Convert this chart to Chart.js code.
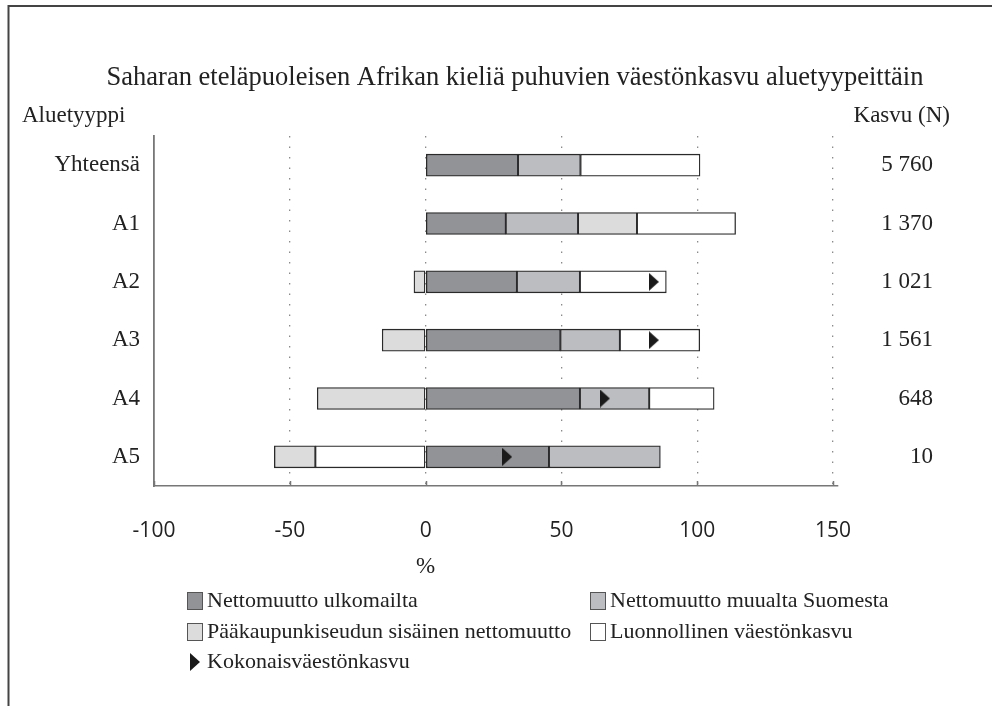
<!DOCTYPE html>
<html>
<head>
<meta charset="utf-8">
<script src="https://cdn.jsdelivr.net/npm/chart.js@4.4.1/dist/chart.umd.min.js"></script>
<style>
    html, body { margin: 0; padding: 0; background: #fff; }
    #wrap { position: relative; width: 992px; height: 706px; }
</style>
</head>
<body>
<div id="wrap"><canvas id="kasvuChart" width="992" height="706"></canvas></div>
<script>
// data (percent of growth per area type)
const regions = ['Yhteensä', 'A1', 'A2', 'A3', 'A4', 'A5'];
const growthN = ['5 760', '1 370', '1 021', '1 561', '648', '10'];
const fromAbroad = [34, 29.5, 33.6, 49.6, 56.8, 45.4];
const fromFinland = [23, 26.6, 23.2, 21.9, 25.5, 41];
const capitalInternal = [0, 21.7, -4.3, -16, -39.9, null];
const natural = [44, 36.3, 31.8, 29.4, 23.9, -40.6];
const capitalInternalA5 = [null, null, null, null, null, -15.1];
const totalGrowth = [null, null, 84, 84, 66, 30];
const xTicks = [-100, -50, 0, 50, 100, 150];

const chartTitle = 'Saharan eteläpuoleisen Afrikan kieliä puhuvien väestönkasvu aluetyypeittäin';
const seriesLabels = [
    'Nettomuutto ulkomailta',
    'Nettomuutto muualta Suomesta',
    'Pääkaupunkiseudun sisäinen nettomuutto',
    'Luonnollinen väestönkasvu',
    'Kokonaisväestönkasvu'
];

const serif = '"Liberation Serif", "Times New Roman", serif';
const colors = ['#929397', '#bcbdc0', '#dcdcdc', '#ffffff'];

// right-pointing triangle used for the total growth marker
const marker = document.createElement('canvas');
marker.width = 10;
marker.height = 18;
(function () {
    const c = marker.getContext('2d');
    c.fillStyle = '#1a1a1a';
    c.beginPath();
    c.moveTo(0, 0);
    c.lineTo(10, 9);
    c.lineTo(0, 18);
    c.closePath();
    c.fill();
})();

function barSet(label, data, color) {
    return {
        type: 'bar',
        label: label,
        data: data,
        backgroundColor: color,
        borderColor: '#2a2a2a',
        borderWidth: 1.3,
        borderSkipped: false,
        barThickness: 22,
        stack: 'osat'
    };
}

const extras = {
    id: 'extras',
    beforeDraw(chart) {
        const ctx = chart.ctx;
        ctx.save();
        ctx.fillStyle = '#fff';
        ctx.fillRect(0, 0, chart.width, chart.height);
        // frame
        ctx.strokeStyle = '#444';
        ctx.lineWidth = 2;
        ctx.beginPath();
        ctx.moveTo(8.5, 706);
        ctx.lineTo(8.5, 6);
        ctx.lineTo(992, 6);
        ctx.stroke();
        ctx.restore();
    },
    afterDraw(chart) {
        const ctx = chart.ctx;
        const x = chart.scales.x;
        const y = chart.scales.y;
        ctx.save();

        // small tick marks pointing up from the axis
        ctx.strokeStyle = '#777';
        ctx.lineWidth = 1.5;
        xTicks.forEach(v => {
            const px = Math.round(x.getPixelForValue(v)) + 0.5;
            ctx.beginPath();
            ctx.moveTo(px, chart.chartArea.bottom);
            ctx.lineTo(px, chart.chartArea.bottom - 5);
            ctx.stroke();
        });

        ctx.fillStyle = '#222';
        ctx.textBaseline = 'middle';
        ctx.font = '26.5px ' + serif;
        ctx.textAlign = 'center';
        ctx.fillText(chartTitle, 515, 78);

        ctx.font = '23px ' + serif;
        ctx.textAlign = 'left';
        ctx.fillText('Aluetyyppi', 22, 116);
        ctx.textAlign = 'right';
        ctx.fillText('Kasvu (N)', 950, 116);

        regions.forEach((r, i) => {
            ctx.fillText(growthN[i], 933, y.getPixelForValue(i));
        });

        ctx.textAlign = 'center';
        ctx.fillText('%', x.getPixelForValue(0), 567);

        // legend
        const items = [
            { col: 0, row: 0, ds: 0 },
            { col: 1, row: 0, ds: 1 },
            { col: 0, row: 1, ds: 2 },
            { col: 1, row: 1, ds: 3 },
            { col: 0, row: 2, ds: 6 }
        ];
        const colX = [187, 590];
        const rowY = [601, 632, 662];
        ctx.font = '22px ' + serif;
        ctx.textAlign = 'left';
        items.forEach(it => {
            const bx = colX[it.col];
            const by = rowY[it.row];
            const ds = chart.data.datasets[it.ds];
            if (ds.type === 'bar') {
                ctx.fillStyle = ds.backgroundColor;
                ctx.fillRect(bx, by - 9, 16, 18);
                ctx.strokeStyle = '#555';
                ctx.lineWidth = 1;
                ctx.strokeRect(bx + 0.5, by - 8.5, 15, 17);
            } else {
                ctx.drawImage(marker, bx + 3, by - 9);
            }
            ctx.fillStyle = '#222';
            ctx.fillText(ds.label, bx + 20, by);
        });

        ctx.restore();
    }
};

const ctx = document.getElementById('kasvuChart').getContext('2d');
const kasvuChart = new Chart(ctx, {
    data: {
        labels: regions,
        datasets: [
            barSet(seriesLabels[0], fromAbroad, colors[0]),
            barSet(seriesLabels[1], fromFinland, colors[1]),
            barSet(seriesLabels[2], capitalInternal, colors[2]),
            barSet(seriesLabels[3], natural, colors[3]),
            barSet(seriesLabels[2] + ' ', capitalInternalA5, colors[2]),
            {
                type: 'line',
                label: 'spacer',
                data: [],
                stack: 'none'
            },
            {
                type: 'line',
                label: seriesLabels[4],
                data: totalGrowth,
                showLine: false,
                pointStyle: marker,
                pointRadius: 9,
                stack: 'kokonais',
                order: -1
            }
        ]
    },
    options: {
        indexAxis: 'y',
        responsive: false,
        animation: false,
        layout: { padding: { top: 136, right: 154, left: 0, bottom: 0 } },
        plugins: {
            legend: { display: false },
            tooltip: { enabled: false }
        },
        scales: {
            x: {
                type: 'linear',
                stacked: true,
                min: -100,
                max: 151.8,
                afterFit: s => { s.height = 220; },
                afterBuildTicks: s => { s.ticks = xTicks.map(v => ({ value: v })); },
                ticks: {
                    padding: 32,
                    color: '#222',
                    font: { family: '"Open Sans", "Liberation Sans", sans-serif', size: 21 }
                },
                grid: {
                    drawTicks: false,
                    color: c => (c.tick && c.tick.value === -100) ? 'rgba(0,0,0,0)' : '#8a8a8a',
                    lineWidth: 1.3
                },
                border: { display: true, color: '#777', width: 1.5, dash: [1.5, 9] }
            },
            y: {
                type: 'category',
                stacked: true,
                afterFit: s => { s.width = 154; },
                ticks: {
                    padding: 14,
                    color: '#222',
                    font: { family: serif, size: 23 }
                },
                grid: { display: false, drawTicks: false },
                border: { display: true, color: '#777', width: 1.8 }
            }
        }
    },
    plugins: [extras]
});
</script>
</body>
</html>
